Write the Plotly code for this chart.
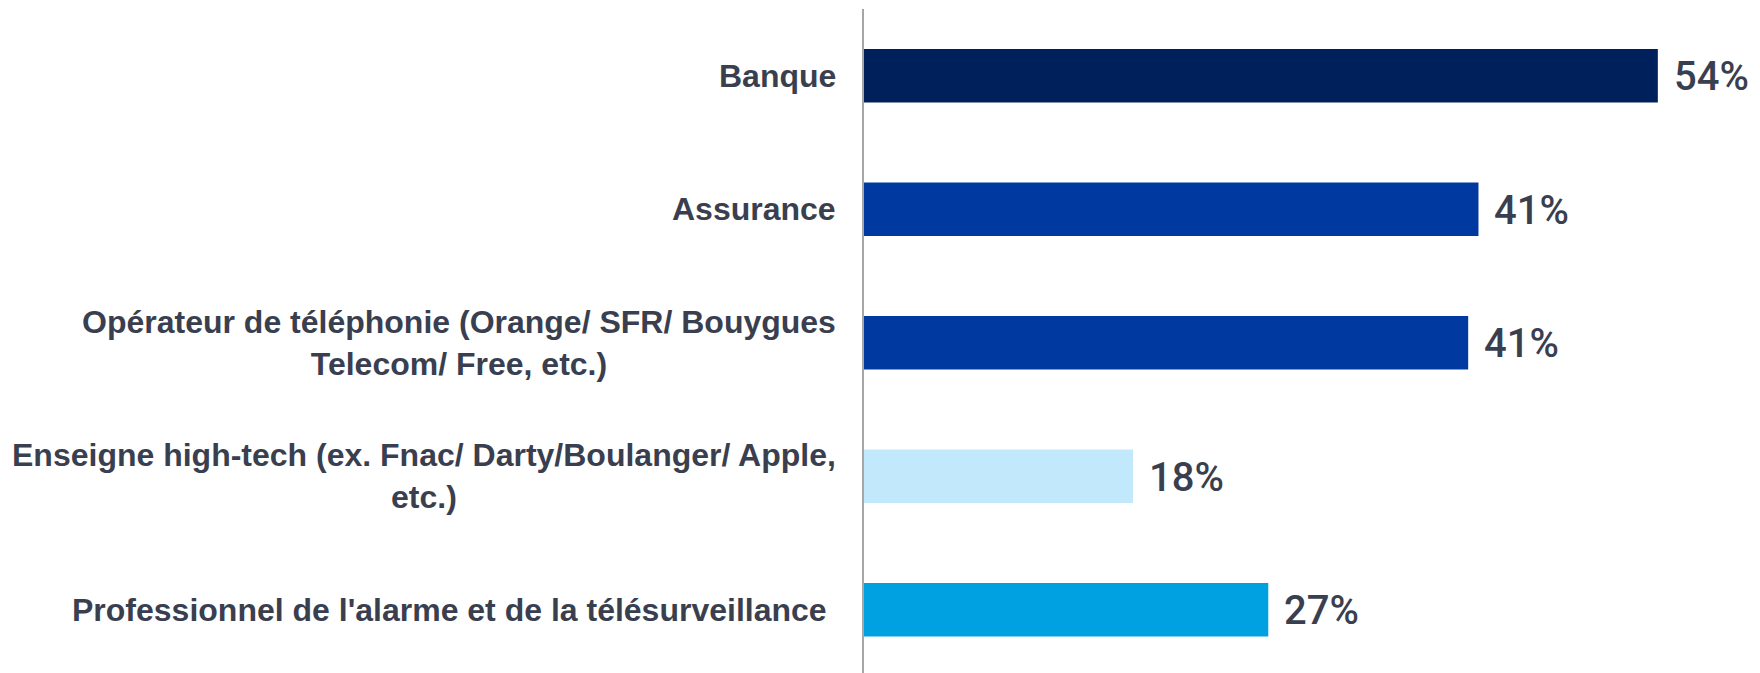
import plotly.graph_objects as go

categories = [
    "Banque",
    "Assurance",
    "Opérateur de téléphonie (Orange/ SFR/ Bouygues<br>Telecom/ Free, etc.)",
    "Enseigne high-tech (ex. Fnac/ Darty/Boulanger/ Apple,<br>etc.)",
    "Professionnel de l'alarme et de la télésurveillance\u00a0",
]
values = [54.0, 41.8, 41.1, 18.3, 27.5]
value_labels = ["54%", "41%", "41%", "18%", "27%"]
colors = ["#00205b", "#003aa0", "#003aa0", "#c2e8fb", "#00a1e0"]

TEXT = "#3a3f50"

fig = go.Figure()
fig.add_trace(go.Bar(
    y=list(range(len(categories))),
    x=values,
    orientation="h",
    marker=dict(color=colors, line=dict(width=0)),
    width=0.4,
    hoverinfo="skip",
))

for i, (cat, v, lab) in enumerate(zip(categories, values, value_labels)):
    fig.add_annotation(
        x=0, xref="paper", y=i, yref="y",
        text=cat, showarrow=False,
        xanchor="right", yanchor="middle", align="center",
        xshift=-26,
        font=dict(family="Liberation Sans, Arial, sans-serif", size=32, color=TEXT, weight="bold"),
    )
    fig.add_annotation(
        x=v, xref="x", y=i, yref="y",
        text=lab, showarrow=False,
        xanchor="left", yanchor="middle",
        xshift=14, yshift=-1,
        font=dict(family="Roboto, sans-serif", size=40, color=TEXT, weight=500),
    )

# page body adds an 8px offset; compensate so the plot lands in place
fig.update_layout(
    width=1752, height=665,
    margin=dict(l=856, r=0, t=1, b=0),
    plot_bgcolor="white", paper_bgcolor="white",
    showlegend=False,
    xaxis=dict(range=[0, 60.95], visible=False, fixedrange=True),
    yaxis=dict(range=[4.474, -0.5], showticklabels=False, showgrid=False,
               zeroline=False, showline=True, linecolor="#a6a6a6", linewidth=2,
               ticks="", fixedrange=True),
)

fig.write_html("out.html")
